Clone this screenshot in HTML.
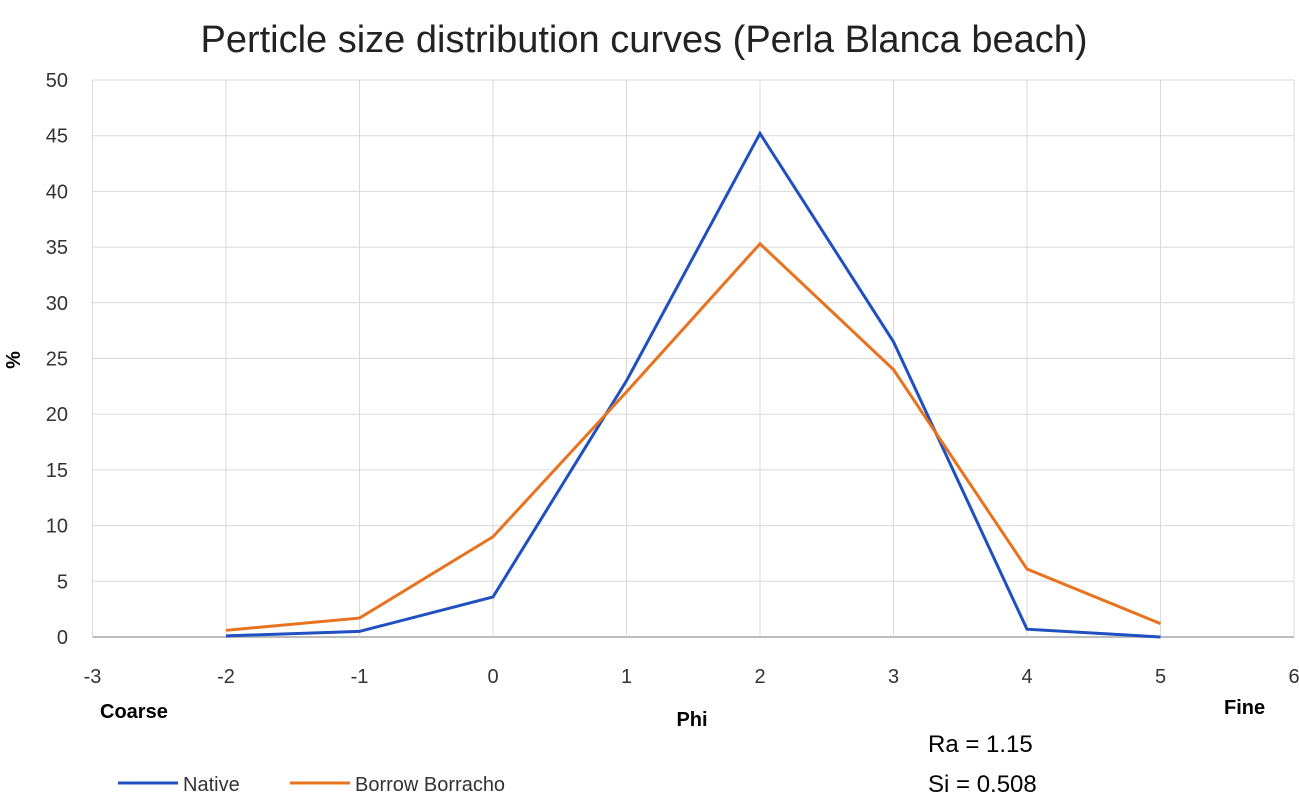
<!DOCTYPE html>
<html><head><meta charset="utf-8"><style>
body{margin:0;background:#fff;}
svg{display:block;font-family:"Liberation Sans",sans-serif;}
</style></head><body>
<svg id="chart" width="1299" height="794">
<text x="644" y="52" font-size="38" text-anchor="middle" fill="#222">Perticle size distribution curves (Perla Blanca beach)</text>
<g id="grid"></g><g id="series"></g>
<text x="20" y="360" font-size="20" font-weight="bold" text-anchor="middle" transform="rotate(-90 20 360)">%</text>
<text x="100" y="718" font-size="20" font-weight="bold">Coarse</text>
<text x="692" y="726" font-size="20" font-weight="bold" text-anchor="middle">Phi</text>
<text x="1224" y="714" font-size="20" font-weight="bold">Fine</text>
<text x="928" y="752" font-size="24">Ra = 1.15</text>
<text x="928" y="792" font-size="24">Si = 0.508</text>
<g><line x1="118" y1="783" x2="178" y2="783" stroke="#1f4fc0" stroke-width="3"/><text x="183" y="791" font-size="20" fill="#333">Native</text></g>
<g><line x1="290" y1="783" x2="350" y2="783" stroke="#e8731f" stroke-width="3"/><text x="355" y="791" font-size="20" fill="#333">Borrow Borracho</text></g>
</svg>
<script>
const phi=[-2,-1,0,1,2,3,4,5];
const nativeVals=[0.1,0.5,3.6,23,45.2,26.5,0.7,0];
const borrowVals=[0.6,1.7,9,22,35.3,24,6.1,1.2];
const xTicks=[-3,-2,-1,0,1,2,3,4,5,6];
const yTicks=[0,5,10,15,20,25,30,35,40,45,50];
const X=v=>493+(v)*133.5, Y=v=>637-v*11.14;
const ns="http://www.w3.org/2000/svg";
const grid=document.getElementById('grid'), ser=document.getElementById('series');
function mk(t,a,p){const e=document.createElementNS(ns,t);for(const k in a)e.setAttribute(k,a[k]);p.appendChild(e);return e;}
yTicks.forEach(v=>{
 const l=mk('line',{x1:X(-3),x2:X(6),y1:Y(v),y2:Y(v),stroke:v===0?'#bbb':'#d9d9d9','stroke-width':v===0?2:1},grid);
 
 
 const t=mk('text',{x:68,y:Y(v)+7,'font-size':20,'text-anchor':'end',fill:'#333'},grid);t.textContent=v;
 
 
});
xTicks.forEach(v=>{
 const l=mk('line',{x1:X(v),x2:X(v),y1:Y(50),y2:Y(0),stroke:'#d9d9d9'},grid);
 
 
 const t=mk('text',{x:X(v),y:683,'font-size':20,'text-anchor':'middle',fill:'#333'},grid);t.textContent=v;
 
 
});
function line(vals,c,name){
 const p=mk('polyline',{points:phi.map((x,i)=>X(x)+','+Y(vals[i])).join(' '),fill:'none',stroke:c,'stroke-width':3},ser);
 
 
}
line(nativeVals,'#1f4fc0','native-line');
line(borrowVals,'#e8731f','borrow-line');
</script>
</body></html>
